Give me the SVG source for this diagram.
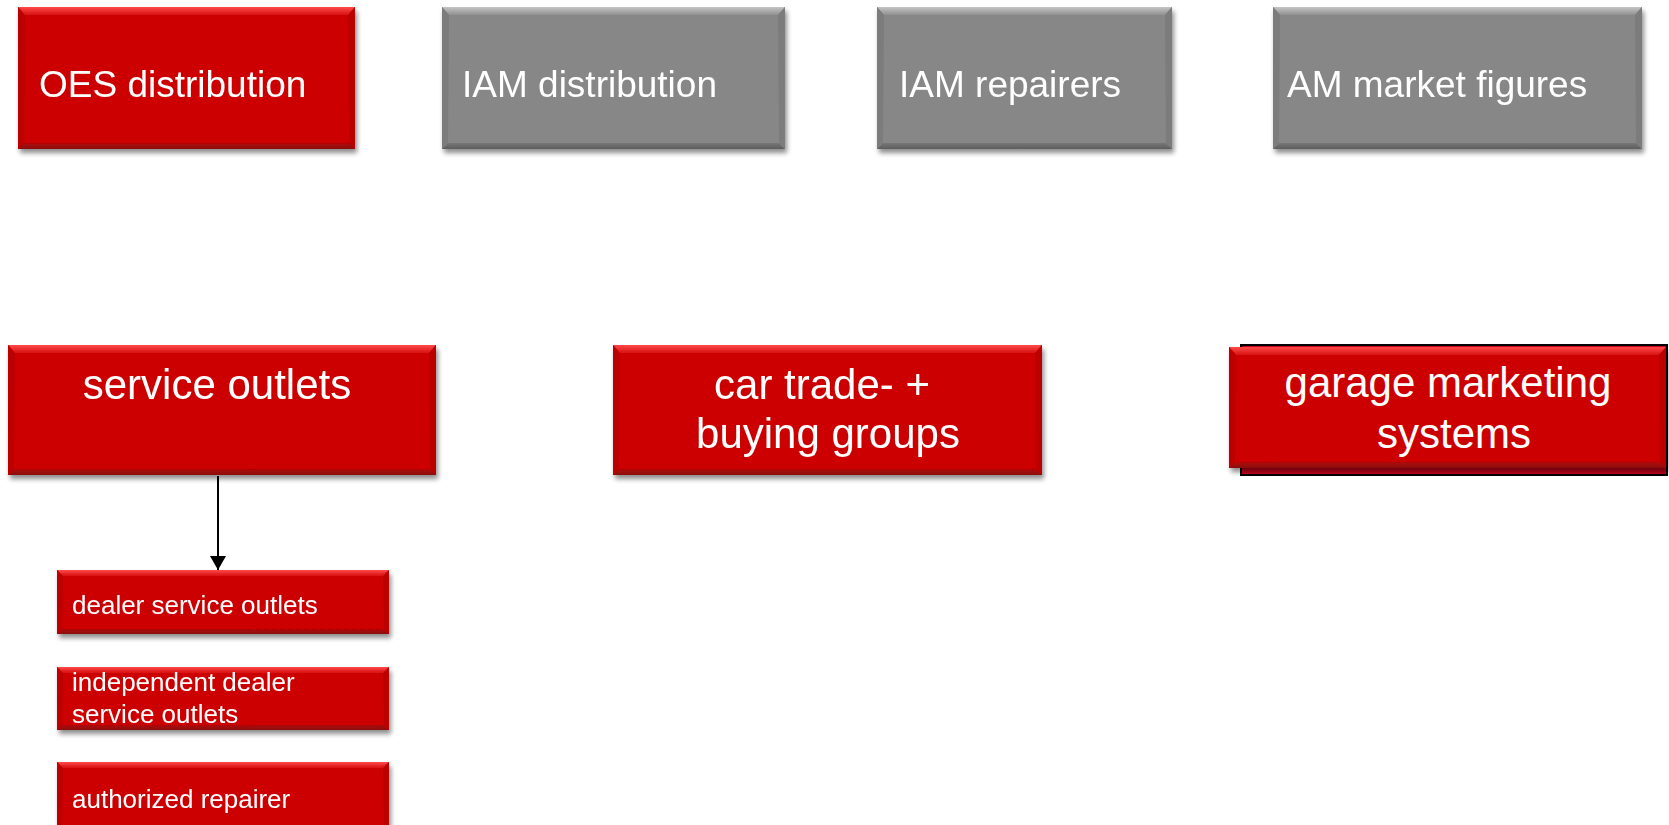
<svg xmlns="http://www.w3.org/2000/svg" width="1669" height="825" viewBox="0 0 1669 825">
<defs>
<filter id="sh" x="-5%" y="-10%" width="115%" height="130%">
<feGaussianBlur in="SourceAlpha" stdDeviation="2.5"/>
<feOffset dx="2" dy="4" result="o"/>
<feComponentTransfer><feFuncA type="linear" slope="0.45"/></feComponentTransfer>
<feMerge><feMergeNode/><feMergeNode in="SourceGraphic"/></feMerge>
</filter>
<linearGradient id="rt" x1="0" y1="0" x2="0" y2="1"><stop offset="0" stop-color="#ff4a4a"/><stop offset="1" stop-color="#d81010"/></linearGradient>
<linearGradient id="rb" x1="0" y1="0" x2="0" y2="1"><stop offset="0" stop-color="#b00606"/><stop offset="1" stop-color="#8a0a0a"/></linearGradient>
<linearGradient id="gt" x1="0" y1="0" x2="0" y2="1"><stop offset="0" stop-color="#c4c4c4"/><stop offset="1" stop-color="#909090"/></linearGradient>
<linearGradient id="gb" x1="0" y1="0" x2="0" y2="1"><stop offset="0" stop-color="#777"/><stop offset="1" stop-color="#5e5e5e"/></linearGradient>
<marker id="arr" markerUnits="userSpaceOnUse" markerWidth="14" markerHeight="16" viewBox="0 0 14 16" refX="14" refY="8" orient="auto">
<path d="M0,0 L14,8 L0,16 z" fill="#000"/>
</marker>
</defs>
<style>
.red{fill:#cc0505}
.rs{fill:#bb0505}
.gray{fill:#878787}
.gs{fill:#7c7c7c}
.t{font-family:"Liberation Sans",Arial,sans-serif;fill:#fff}
.big{font-size:37px}
.mid{font-size:42px;text-anchor:middle}
.sm{font-size:26px}
</style>
<g id="oes" filter="url(#sh)">
<rect class="red" x="18" y="7" width="337" height="142"/>
<polygon fill="url(#rt)" points="18,7 355,7 348,15 25,15"/>
<polygon fill="url(#rb)" points="18,149 355,149 349,143 24,143"/>
<polygon class="rs" points="18,7 25,15 24,143 18,149"/>
<polygon class="rs" points="355,7 348,15 349,143 355,149"/>
<text class="t big" x="39" y="97">OES distribution</text>
</g>
<g id="iam-distribution" filter="url(#sh)">
<rect class="gray" x="442" y="7" width="343" height="142"/>
<polygon fill="url(#gt)" points="442,7 785,7 778,15 449,15"/>
<polygon fill="url(#gb)" points="442,149 785,149 779,143 448,143"/>
<polygon class="gs" points="442,7 449,15 448,143 442,149"/>
<polygon class="gs" points="785,7 778,15 779,143 785,149"/>
<text class="t big" x="462" y="97">IAM distribution</text>
</g>
<g id="iam-repairers" filter="url(#sh)">
<rect class="gray" x="877" y="7" width="295" height="142"/>
<polygon fill="url(#gt)" points="877,7 1172,7 1165,15 884,15"/>
<polygon fill="url(#gb)" points="877,149 1172,149 1166,143 883,143"/>
<polygon class="gs" points="877,7 884,15 883,143 877,149"/>
<polygon class="gs" points="1172,7 1165,15 1166,143 1172,149"/>
<text class="t big" x="899" y="97">IAM repairers</text>
</g>
<g id="am-market" filter="url(#sh)">
<rect class="gray" x="1273" y="7" width="369" height="142"/>
<polygon fill="url(#gt)" points="1273,7 1642,7 1635,15 1280,15"/>
<polygon fill="url(#gb)" points="1273,149 1642,149 1636,143 1279,143"/>
<polygon class="gs" points="1273,7 1280,15 1279,143 1273,149"/>
<polygon class="gs" points="1642,7 1635,15 1636,143 1642,149"/>
<text class="t big" x="1287" y="97">AM market figures</text>
</g>
<g id="service-outlets" filter="url(#sh)">
<rect class="red" x="8" y="345" width="428" height="130"/>
<polygon fill="url(#rt)" points="8,345 436,345 429,353 15,353"/>
<polygon fill="url(#rb)" points="8,475 436,475 430,469 14,469"/>
<polygon class="rs" points="8,345 15,353 14,469 8,475"/>
<polygon class="rs" points="436,345 429,353 430,469 436,475"/>
<text class="t mid" x="217" y="399">service outlets</text>
</g>
<g id="car-trade" filter="url(#sh)">
<rect class="red" x="613" y="345" width="429" height="130"/>
<polygon fill="url(#rt)" points="613,345 1042,345 1035,353 620,353"/>
<polygon fill="url(#rb)" points="613,475 1042,475 1036,469 619,469"/>
<polygon class="rs" points="613,345 620,353 619,469 613,475"/>
<polygon class="rs" points="1042,345 1035,353 1036,469 1042,475"/>
<text class="t mid" x="822" y="399">car trade- +</text>
<text class="t mid" x="828" y="448">buying groups</text>
</g>
<g id="garage-marketing">
<rect x="1241" y="345" width="426" height="130" fill="#c8001a" stroke="#000" stroke-width="2"/>
<g filter="url(#sh)">
<rect class="red" x="1229" y="347" width="437" height="121"/>
<polygon fill="url(#rt)" points="1229,347 1666,347 1659,355 1236,355"/>
<polygon fill="url(#rb)" points="1229,468 1666,468 1660,462 1235,462"/>
<polygon class="rs" points="1229,347 1236,355 1235,462 1229,468"/>
<polygon class="rs" points="1666,347 1659,355 1660,462 1666,468"/>
</g>
<text class="t mid" x="1448" y="397">garage marketing</text>
<text class="t mid" x="1454" y="448">systems</text>
</g>
<g id="dealer-service-outlets" filter="url(#sh)">
<rect class="red" x="57" y="570" width="332" height="64"/>
<polygon fill="url(#rt)" points="57,570 389,570 383,576 63,576"/>
<polygon fill="url(#rb)" points="57,634 389,634 384,629 62,629"/>
<polygon class="rs" points="57,570 63,576 62,629 57,634"/>
<polygon class="rs" points="389,570 383,576 384,629 389,634"/>
<text class="t sm" x="72" y="614">dealer service outlets</text>
</g>
<g id="independent-dealer" filter="url(#sh)">
<rect class="red" x="57" y="667" width="332" height="63"/>
<polygon fill="url(#rt)" points="57,667 389,667 383,673 63,673"/>
<polygon fill="url(#rb)" points="57,730 389,730 384,725 62,725"/>
<polygon class="rs" points="57,667 63,673 62,725 57,730"/>
<polygon class="rs" points="389,667 383,673 384,725 389,730"/>
<text class="t sm" x="72" y="691">independent dealer</text>
<text class="t sm" x="72" y="723">service outlets</text>
</g>
<g id="authorized-repairer" filter="url(#sh)">
<rect class="red" x="57" y="762" width="332" height="70"/>
<polygon fill="url(#rt)" points="57,762 389,762 383,768 63,768"/>
<polygon class="rs" points="57,762 63,768 62,832 57,832"/>
<polygon class="rs" points="389,762 383,768 384,832 389,832"/>
<text class="t sm" x="72" y="808">authorized repairer</text>
</g>
<g id="connectors">
<line x1="218" y1="476" x2="218" y2="570" stroke="#000" stroke-width="2" marker-end="url(#arr)"/>
</g>
</svg>
